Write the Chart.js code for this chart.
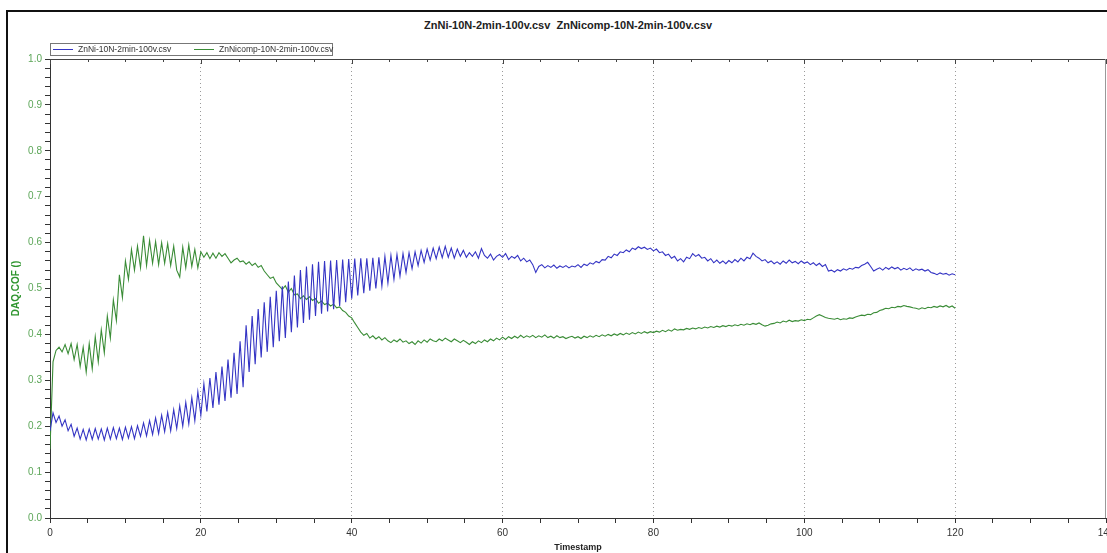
<!DOCTYPE html>
<html>
<head>
<meta charset="utf-8">
<title>ZnNi COF</title>
<script src="https://cdn.jsdelivr.net/npm/chart.js@4/dist/chart.umd.min.js"></script>
<style>
  html, body { margin: 0; padding: 0; background: #fff; }
  #wrap { position: relative; width: 1107px; height: 553px; overflow: hidden; font-family: "Liberation Sans", Arial, sans-serif; }
  #frame { position: absolute; left: 6px; top: 10px; width: 1200px; height: 600px;
           border-left: 2px solid #111; border-top: 2px solid #111; }
  #title { position: absolute; left: 424px; top: 19px; font-size: 11px; font-weight: bold; color: #222; white-space: pre; }
  #legend { position: absolute; left: 50px; top: 43px; width: 281px; height: 11px;
            border: 1px solid #777; background: #fff; font-size: 8.5px; color: #333; white-space: nowrap; }
  .item { position: absolute; top: 0; line-height: 11px; }
  .swatch { display: inline-block; width: 20px; height: 0; border-top: 1px solid; vertical-align: middle; margin-right: 5px; }
  canvas { position: absolute; left: 0; top: 0; }
</style>
</head>
<body>
<div id="wrap">
  <div id="frame"></div>
  <div id="title">ZnNi-10N-2min-100v.csv  ZnNicomp-10N-2min-100v.csv</div>
  <canvas id="chart" width="1107" height="553"></canvas>
  <div id="legend"></div>
</div>
<script>
const T_STEP = 0.4;

const SERIES_NAMES = ["ZnNi-10N-2min-100v.csv", "ZnNicomp-10N-2min-100v.csv"];
const SERIES_COLORS = ["#3434c4", "#3a8c36"];

// ZnNi-10N-2min-100v.csv  (t = 0 … 120 s)
const znNiCof = [
  0.190, 0.229, 0.208, 0.222, 0.200, 0.214, 0.190, 0.204, 0.178, 0.196,
  0.172, 0.193, 0.170, 0.194, 0.171, 0.195, 0.172, 0.194, 0.170, 0.196,
  0.172, 0.197, 0.173, 0.196, 0.171, 0.198, 0.174, 0.199, 0.173, 0.201,
  0.178, 0.207, 0.179, 0.212, 0.182, 0.218, 0.184, 0.224, 0.188, 0.230,
  0.190, 0.236, 0.195, 0.244, 0.200, 0.252, 0.205, 0.262, 0.212, 0.275,
  0.224, 0.292, 0.232, 0.305, 0.240, 0.318, 0.247, 0.330, 0.255, 0.345,
  0.262, 0.360, 0.270, 0.385, 0.285, 0.420, 0.318, 0.440, 0.335, 0.455,
  0.350, 0.470, 0.362, 0.482, 0.372, 0.495, 0.385, 0.505, 0.392, 0.515,
  0.405, 0.528, 0.415, 0.540, 0.425, 0.548, 0.432, 0.553, 0.440, 0.558,
  0.445, 0.560, 0.450, 0.561, 0.455, 0.562, 0.462, 0.563, 0.470, 0.564,
  0.478, 0.565, 0.485, 0.566, 0.490, 0.566, 0.495, 0.567, 0.500, 0.568,
  0.505, 0.570, 0.512, 0.572, 0.520, 0.574, 0.527, 0.576, 0.535, 0.578,
  0.543, 0.580, 0.550, 0.583, 0.557, 0.586, 0.562, 0.588, 0.565, 0.590,
  0.567, 0.592, 0.568, 0.588, 0.566, 0.586, 0.570, 0.583, 0.568, 0.578,
  0.570, 0.580, 0.566, 0.587, 0.572, 0.566, 0.575, 0.562, 0.570, 0.574,
  0.568, 0.576, 0.563, 0.570, 0.566, 0.572, 0.560, 0.566, 0.558, 0.562,
  0.552, 0.535, 0.548, 0.552, 0.545, 0.550, 0.546, 0.551, 0.544, 0.549,
  0.546, 0.550, 0.545, 0.549, 0.547, 0.552, 0.546, 0.553, 0.550, 0.556,
  0.553, 0.559, 0.556, 0.563, 0.562, 0.570, 0.567, 0.575, 0.572, 0.580,
  0.578, 0.584, 0.580, 0.588, 0.585, 0.591, 0.587, 0.590, 0.585, 0.588,
  0.582, 0.586, 0.578, 0.580, 0.572, 0.575, 0.566, 0.570, 0.560, 0.565,
  0.558, 0.568, 0.565, 0.576, 0.570, 0.574, 0.566, 0.568, 0.560, 0.565,
  0.556, 0.562, 0.555, 0.560, 0.554, 0.561, 0.556, 0.563, 0.558, 0.566,
  0.560, 0.568, 0.565, 0.577, 0.570, 0.566, 0.560, 0.563, 0.556, 0.560,
  0.554, 0.558, 0.553, 0.560, 0.555, 0.562, 0.556, 0.559, 0.554, 0.560,
  0.555, 0.558, 0.552, 0.556, 0.550, 0.555, 0.548, 0.552, 0.538, 0.540,
  0.536, 0.541, 0.538, 0.543, 0.540, 0.544, 0.542, 0.546, 0.545, 0.550,
  0.553, 0.557, 0.548, 0.538, 0.542, 0.545, 0.540, 0.546, 0.542, 0.547,
  0.543, 0.546, 0.540, 0.544, 0.541, 0.545, 0.539, 0.543, 0.540, 0.542,
  0.538, 0.541, 0.535, 0.533, 0.530, 0.534, 0.531, 0.533, 0.529, 0.532,
  0.530
];

// ZnNicomp-10N-2min-100v.csv  (t = 0 … 120 s)
const znNiCompCof = [
  0.150, 0.340, 0.365, 0.372, 0.362, 0.378, 0.358, 0.380, 0.345, 0.378,
  0.330, 0.372, 0.318, 0.380, 0.325, 0.395, 0.340, 0.410, 0.360, 0.440,
  0.392, 0.475, 0.430, 0.530, 0.480, 0.560, 0.520, 0.585, 0.540, 0.592,
  0.545, 0.615, 0.550, 0.605, 0.555, 0.602, 0.552, 0.600, 0.555, 0.598,
  0.550, 0.592, 0.540, 0.525, 0.590, 0.545, 0.595, 0.548, 0.585, 0.545,
  0.580, 0.568, 0.578, 0.565, 0.577, 0.566, 0.578, 0.570, 0.576, 0.566,
  0.556, 0.562, 0.566, 0.558, 0.560, 0.553, 0.558, 0.550, 0.555, 0.546,
  0.550, 0.538, 0.530, 0.522, 0.525, 0.512, 0.505, 0.498, 0.506, 0.492,
  0.500, 0.486, 0.488, 0.478, 0.484, 0.476, 0.482, 0.474, 0.478, 0.468,
  0.473, 0.465, 0.468, 0.462, 0.466, 0.458, 0.460, 0.452, 0.448, 0.440,
  0.436, 0.425, 0.415, 0.405, 0.398, 0.402, 0.392, 0.397, 0.390, 0.395,
  0.388, 0.393, 0.386, 0.382, 0.388, 0.384, 0.390, 0.383, 0.386, 0.380,
  0.384, 0.378, 0.386, 0.381, 0.388, 0.383, 0.390, 0.386, 0.384, 0.390,
  0.386, 0.392, 0.388, 0.384, 0.390, 0.386, 0.382, 0.387, 0.383, 0.378,
  0.384, 0.380, 0.386, 0.382, 0.388, 0.384, 0.390, 0.386, 0.392, 0.388,
  0.394, 0.389, 0.395, 0.391, 0.396, 0.392, 0.398, 0.393, 0.397, 0.394,
  0.398, 0.393, 0.397, 0.394, 0.399, 0.393, 0.396, 0.392, 0.397, 0.393,
  0.395, 0.391, 0.394, 0.396, 0.392, 0.395, 0.391, 0.396, 0.393, 0.397,
  0.394, 0.398, 0.395, 0.399, 0.396, 0.400, 0.397, 0.401, 0.398, 0.402,
  0.399, 0.403, 0.400, 0.404, 0.401, 0.405, 0.402, 0.406, 0.403, 0.406,
  0.404, 0.407, 0.405, 0.409, 0.406, 0.410, 0.407, 0.412, 0.409, 0.411,
  0.410, 0.413, 0.411, 0.414, 0.412, 0.415, 0.413, 0.416, 0.414, 0.417,
  0.415, 0.418, 0.416, 0.419, 0.417, 0.420, 0.418, 0.421, 0.419, 0.422,
  0.420, 0.423, 0.421, 0.424, 0.422, 0.425, 0.421, 0.418, 0.420, 0.423,
  0.424, 0.427, 0.425, 0.429, 0.427, 0.431, 0.428, 0.430, 0.429, 0.432,
  0.430, 0.433, 0.432, 0.436, 0.440, 0.443, 0.440, 0.437, 0.435, 0.434,
  0.433, 0.435, 0.432, 0.434, 0.433, 0.436, 0.435, 0.438, 0.440, 0.442,
  0.441, 0.444, 0.443, 0.447, 0.448, 0.452, 0.454, 0.457, 0.456, 0.459,
  0.458, 0.461, 0.460, 0.463, 0.461, 0.460, 0.458, 0.457, 0.455, 0.458,
  0.456, 0.459, 0.458, 0.461, 0.459, 0.462, 0.460, 0.463, 0.459, 0.462,
  0.457
];

// Axis ranges / ticks
const X_MIN = 0, X_MAX = 140, X_MINOR = 5, X_MAJOR = 20;
const Y_MIN = 0, Y_MAX = 1, Y_MINOR = 0.02, Y_MAJOR = 0.1;

const AXIS_GREEN = "#5ca658";
const TITLE_GREEN = "#2f952f";
const FONT = "'Liberation Sans', Arial, sans-serif";

// ── Helpers ───────────────────────────────────────────────────────
function toPoints(values) {
  return values.map((v, i) => ({ x: +(i * T_STEP).toFixed(1), y: v }));
}

function isMultiple(v, step) {
  const r = v / step;
  return Math.abs(r - Math.round(r)) < 1e-6;
}

// ── Legend (html) ─────────────────────────────────────────────────
const legendEl = document.getElementById("legend");
[2, 143].forEach((left, i) => {
  const div = document.createElement("div");
  div.className = "item";
  div.style.left = left + "px";
  div.innerHTML = `<span class="swatch" style="border-color:${SERIES_COLORS[i]}"></span>${SERIES_NAMES[i]}`;
  legendEl.appendChild(div);
});

// ── Plot frame: top + right border with mirrored top ticks ────────
const framePlugin = {
  id: "frame",
  afterDraw(chart) {
    const { ctx, chartArea: a, scales } = chart;
    ctx.save();
    ctx.strokeStyle = "#444";
    ctx.lineWidth = 1;
    ctx.beginPath();
    ctx.moveTo(a.left, a.top + 0.5);
    ctx.lineTo(a.right, a.top + 0.5);
    ctx.stroke();
    ctx.strokeStyle = "#999";
    ctx.beginPath();
    ctx.moveTo(a.right - 0.5, a.top);
    ctx.lineTo(a.right - 0.5, a.bottom);
    ctx.stroke();
    ctx.strokeStyle = "#444";
    scales.x.ticks.forEach((t) => {
      const px = Math.round(scales.x.getPixelForValue(t.value)) + 0.5;
      const len = isMultiple(t.value, X_MAJOR) ? 5 : 3;
      ctx.beginPath();
      ctx.moveTo(px, a.top);
      ctx.lineTo(px, a.top + len);
      ctx.stroke();
    });
    ctx.restore();
  },
};

// ── Chart ─────────────────────────────────────────────────────────
new Chart(document.getElementById("chart"), {
  type: "line",
  data: {
    datasets: [znNiCof, znNiCompCof].map((vals, i) => ({
      label: SERIES_NAMES[i],
      data: toPoints(vals),
      borderColor: SERIES_COLORS[i],
      borderWidth: 1.1,
      pointRadius: 0,
      tension: 0,
      fill: false,
    })),
  },
  options: {
    responsive: false,
    animation: false,
    devicePixelRatio: 1,
    layout: { padding: { left: 10, top: 59, right: 1, bottom: 0 } },
    plugins: {
      legend: { display: false },
      tooltip: { enabled: false },
    },
    scales: {
      x: {
        type: "linear",
        min: X_MIN,
        max: X_MAX,
        afterFit: (s) => { s.height = 35; s.paddingLeft = 0; s.paddingRight = 0; },
        ticks: {
          stepSize: X_MINOR,
          autoSkip: false,
          maxRotation: 0,
          padding: 4,
          color: "#333",
          font: { family: FONT, size: 10 },
          callback: (v) => (isMultiple(v, X_MAJOR) ? String(v) : ""),
        },
        grid: {
          drawOnChartArea: true,
          color: (c) => (c.tick && isMultiple(c.tick.value, X_MAJOR) && c.tick.value > X_MIN && c.tick.value < X_MAX ? "#9a9a9a" : "rgba(0,0,0,0)"),
          tickColor: "#333",
          tickLength: 5,
          lineWidth: 1,
        },
        border: { display: true, color: "#333", width: 1, dash: [1, 3] },
        title: {
          display: true,
          text: "Timestamp",
          color: "#222",
          font: { family: FONT, size: 9, weight: "bold" },
          padding: 0,
        },
      },
      y: {
        min: Y_MIN,
        max: Y_MAX,
        afterFit: (s) => { s.width = 40; s.paddingTop = 0; s.paddingBottom = 0; },
        ticks: {
          stepSize: Y_MINOR,
          autoSkip: false,
          padding: 3,
          color: AXIS_GREEN,
          font: { family: FONT, size: 10 },
          callback: (v) => (isMultiple(v, Y_MAJOR) ? v.toFixed(1) : ""),
        },
        grid: {
          drawOnChartArea: false,
          tickColor: "#333",
          tickLength: 5,
        },
        border: { display: true, color: "#333", width: 1 },
        title: {
          display: true,
          text: "DAQ.COF ()",
          color: TITLE_GREEN,
          font: { family: FONT, size: 10, weight: "bold" },
          padding: 0,
        },
      },
    },
  },
  plugins: [framePlugin],
});
</script>
</body>
</html>
